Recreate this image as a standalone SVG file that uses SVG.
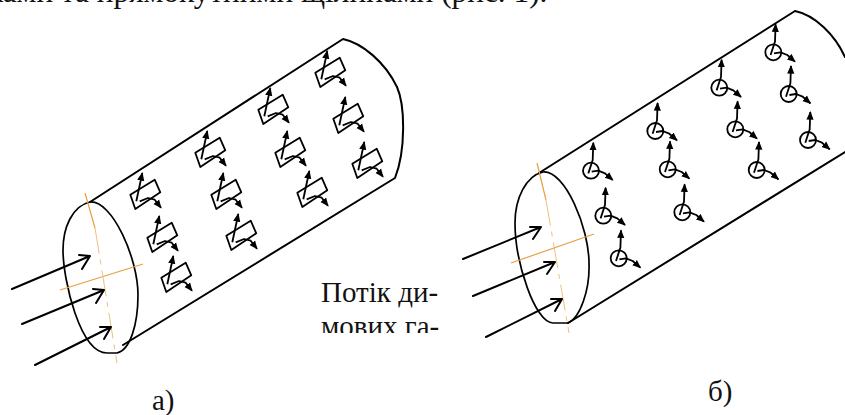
<svg xmlns="http://www.w3.org/2000/svg" xmlns:xlink="http://www.w3.org/1999/xlink" width="845" height="415" viewBox="0 0 845 415">
<style>
.f{fill:none;stroke:#000;stroke-width:2;stroke-linecap:round;stroke-linejoin:round}
.e{fill:none;stroke:#000;stroke-width:1.7;stroke-linecap:round;stroke-linejoin:round}
.o{fill:none;stroke:#e8a040;stroke-width:1.2}
.oc{fill:none;stroke:#eec080;stroke-width:1;stroke-dasharray:26 6 5 6}
.g{fill:none;stroke:#000;stroke-width:1.8;stroke-linejoin:round}
.t{font-family:"Liberation Serif","Times New Roman",serif;font-size:29px;fill:#111}
</style>
<defs>
<marker id="ah" viewBox="0 0 10 10" refX="8.5" refY="5" markerWidth="9" markerHeight="9" orient="auto" markerUnits="userSpaceOnUse"><path d="M0,1L9.5,5L0,9Z" fill="#000"/></marker>
<clipPath id="cmid"><rect x="300" y="270" width="160" height="63"/></clipPath>
<g id="slot">
<path class="g" d="M-14.7,0.7L9.7,-14.3L15.3,-1.7L-9.7,15Z"/>
<path class="g" d="M-8.7,7.3L-2.7,-21" marker-end="url(#ah)"/>
<path class="g" d="M-5.3,7.3L3,4L9.7,5.7L16,13.7" marker-end="url(#ah)"/>
</g>
<g id="hole">
<circle class="g" r="8"/>
<path class="g" d="M-2.7,2.7L1.7,-10.7L2.3,-28" marker-end="url(#ah)"/>
<path class="g" d="M0.7,1L7.3,0L14,2.7L21.7,9.3" marker-end="url(#ah)"/>
</g>
</defs>
<rect width="845" height="415" fill="#fff"/>
<text class="t" x="-12" y="1.5" style="font-size:31.3px">ками та прямокутними щілинами (рис. 1).</text>
<g id="cylinder-a">
<path class="f" d="M90,202L343,39C362,43 385,62 397,87C405,105 406,150 395,178L123,345"/>
<path class="e" d="M90,202C72,206 63,228 63,250C63,280 80,353 107,353L117,353C130,350 138,325 138,295C138,258 112,200 90,202Z"/>
<path class="o" d="M60,290L143,264"/>
<path class="o" d="M85,193L95,228"/>
<path class="oc" d="M95,228L117,363"/>
</g>
<g id="flow-a" class="connectors">
<path class="f" d="M12,289L90,256M79,255L90,256L82,269"/>
<path class="f" d="M22,324L104,290M93,289L104,290L96,303"/>
<path class="f" d="M35,365L111,327M100,327L111,327L104,339"/>
</g>
<g id="slots-a">
<use xlink:href="#slot" href="#slot" x="330" y="72"/>
<use xlink:href="#slot" href="#slot" x="348" y="118"/>
<use xlink:href="#slot" href="#slot" x="367" y="163"/>
<use xlink:href="#slot" href="#slot" x="273" y="109"/>
<use xlink:href="#slot" href="#slot" x="290" y="152"/>
<use xlink:href="#slot" href="#slot" x="312" y="192"/>
<use xlink:href="#slot" href="#slot" x="210" y="152"/>
<use xlink:href="#slot" href="#slot" x="226" y="194"/>
<use xlink:href="#slot" href="#slot" x="241" y="235"/>
<use xlink:href="#slot" href="#slot" x="145" y="194"/>
<use xlink:href="#slot" href="#slot" x="162" y="237"/>
<use xlink:href="#slot" href="#slot" x="176" y="277"/>
</g>
<g id="cylinder-b">
<path class="f" d="M539,173L795,11C815,15 835,35 845,57"/>
<path class="f" d="M568,323L845,152"/>
<path class="e" d="M543,172C526,176 515,198 515,223C515,262 535,323 553,323L568,323C580,318 590,290 589,263C589,228 565,170 543,172Z"/>
<path class="o" d="M511,263L594,234"/>
<path class="o" d="M537,163L546,200"/>
<path class="oc" d="M546,200L569,333"/>
</g>
<g id="flow-b" class="connectors">
<path class="f" d="M463,259L541,227M530,227L541,227L533,239"/>
<path class="f" d="M473,296L555,262M544,262L555,262L547,274"/>
<path class="f" d="M486,337L562,299M551,299L562,299L555,311"/>
</g>
<g id="holes-b">
<use xlink:href="#hole" href="#hole" x="773.3" y="52.3"/>
<use xlink:href="#hole" href="#hole" x="788.7" y="94"/>
<use xlink:href="#hole" href="#hole" x="808" y="140"/>
<use xlink:href="#hole" href="#hole" x="719.3" y="87.7"/>
<use xlink:href="#hole" href="#hole" x="735.3" y="129.3"/>
<use xlink:href="#hole" href="#hole" x="756.7" y="170"/>
<use xlink:href="#hole" href="#hole" x="655.3" y="131"/>
<use xlink:href="#hole" href="#hole" x="667.7" y="169.3"/>
<use xlink:href="#hole" href="#hole" x="682.3" y="212.3"/>
<use xlink:href="#hole" href="#hole" x="591" y="170.7"/>
<use xlink:href="#hole" href="#hole" x="603.3" y="215.7"/>
<use xlink:href="#hole" href="#hole" x="618.7" y="258.3"/>
</g>
<g id="caption" clip-path="url(#cmid)">
<text class="t" x="321" y="302">Потік ди-</text>
<text class="t" x="321" y="336">мових га-</text>
</g>
<text id="label-a" class="t" x="152" y="410">а)</text>
<text id="label-b" class="t" x="708" y="401">б)</text>
</svg>
